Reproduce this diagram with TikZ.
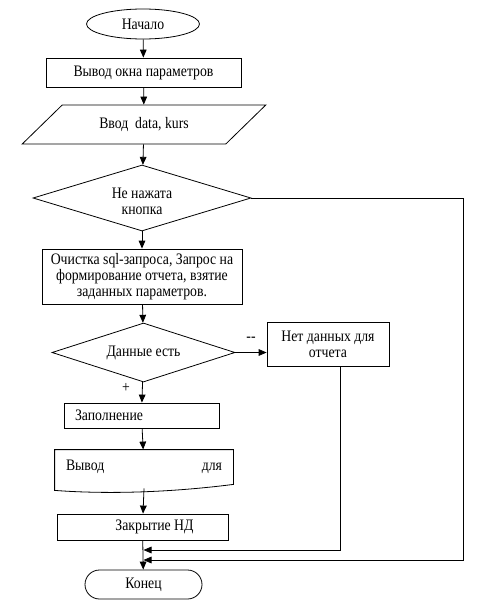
\documentclass[tikz,border=0pt]{standalone}
\usepackage{fontspec}
\setmainfont{Liberation Serif}[FakeStretch=0.86]
\usetikzlibrary{shapes.geometric,shapes.misc,arrows.meta}
\begin{document}
\begin{tikzpicture}[x=0.75pt, y=-0.75pt, line width=0.6pt, >={Triangle[length=6pt,width=5pt]},
	every node/.style={font=\fontsize{12}{12.2}\selectfont, inner sep=0pt},
	box/.style={draw, rectangle, align=center},
	io/.style={draw, trapezium, trapezium left angle=33, trapezium right angle=147, trapezium stretches=true},
	cond/.style={draw, diamond, align=center},
	term/.style={draw, ellipse}]
	\useasboundingbox (0,0) rectangle (476,607);
	\node [term, minimum width=84.75pt, minimum height=22.5pt] (start) at (143,24) {Начало};
	\node [box, minimum width=146.25pt, minimum height=21.75pt] (params) at (143.5,72.5) {Вывод окна параметров};
	\node [io, minimum width=183pt, minimum height=29.25pt] (input) at (144,124.5) {Ввод\ \ data, kurs};
	\node [cond, shape aspect=3.3, minimum width=163.5pt, minimum height=49.5pt] (ask) at (142,198) {};
	\node [align=center] (asktext) at ([yshift=-2.5pt]ask.center) {Не нажата\\кнопка};
	\node [box, minimum width=150pt, minimum height=41.25pt] (query) at (142,276.5) {Очистка sql-запроса, Запрос на\\формирование отчета, взятие\\заданных параметров.};
	\node [cond, shape aspect=3.1, minimum width=137.25pt, minimum height=44.25pt] (check) at (143.5,352.5) {Данные есть};
	\node [box, minimum width=91.5pt, minimum height=33pt] (nodata) at (328,344) {Нет данных для\\отчета};
	\node [box, align=left, inner xsep=8.25pt, text width=99.75pt, minimum height=18.75pt] (fill) at (141.5,415.5) {Заполнение};
	\node [align=left, inner xsep=8.25pt, text width=117pt, minimum height=25.5pt] (doc) at (144,467) {Вывод\hfill для};
	\draw (doc.south west) -- (doc.north west) -- (doc.north east) -- (doc.south east)
		.. controls +(-47pt,-6pt) and +(40pt,-3pt) .. ([yshift=-4.5pt]doc.south west) -- cycle;
	\node [box, minimum width=128.25pt, minimum height=19.5pt] (close) at (142.5,527) {\hspace{18pt}Закрытие НД};
	\node [draw, rounded rectangle, minimum width=87.75pt, minimum height=21.75pt] (end) at (143.5,584.5) {Конец};
	\coordinate (j1) at (143.5,550);
	\coordinate (j2) at (143.5,560);
	\coordinate (rt) at (463,560);
	\draw [->] (start) -- (params);
	\draw [->] (params) -- (input);
	\draw [->] (input) -- (ask);
	\draw [->] (ask) -- (query);
	\draw [->] (query) -- (check);
	\draw [->] (check.east) -- (check.east -| nodata.west) node [midway, above=8pt] {-{}-};
	\draw [->] (check) -- (fill) node [pos=0.3, left=9pt] {+};
	\draw [->] (fill) -- (doc);
	\draw [->] ([yshift=-3pt]doc.south) -- (close);
	\draw [->] (close) -- (end);
	\draw [->] ([xshift=9pt]nodata.south) |- (j1);
	\draw [->] (ask.east) -| (rt) -- (j2);
\end{tikzpicture}
\end{document}
